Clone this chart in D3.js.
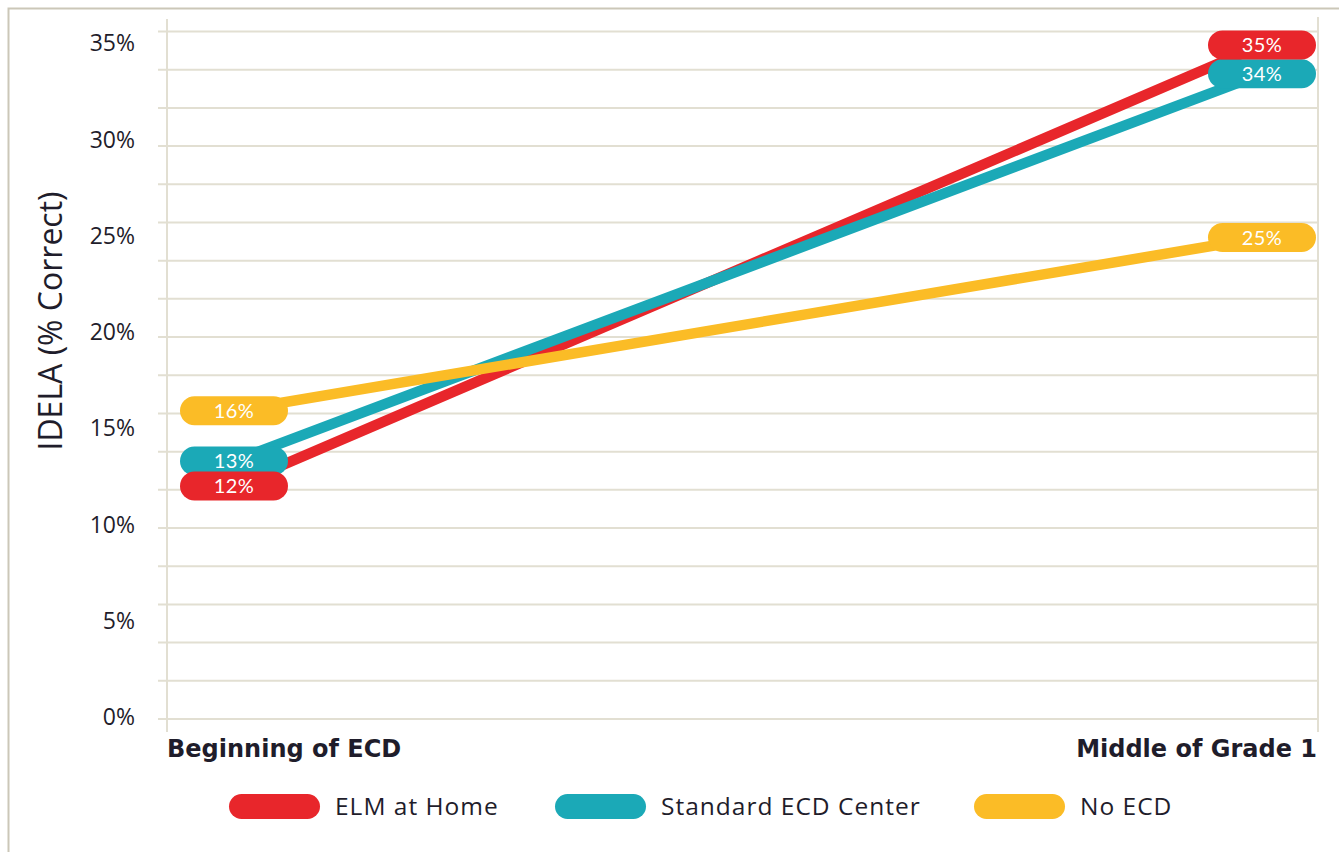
<!DOCTYPE html>
<html>
<head>
<meta charset="utf-8">
<script src="https://cdn.jsdelivr.net/npm/d3@7"></script>
<style>
  html, body { margin: 0; padding: 0; background: #ffffff; }
  svg { display: block; font-family: "Open Sans", Lato, sans-serif; }
</style>
</head>
<body>
<svg id="chart" width="1339" height="852"></svg>
<script>
// ---- data ----
const categories = ["Beginning of ECD", "Middle of Grade 1"];
const seriesNames = ["ELM at Home", "Standard ECD Center", "No ECD"];
const elmValues = [12.0, 34.9];
const standardValues = [13.3, 33.4];
const noEcdValues = [15.9, 24.9];
const elmLabels = ["12%", "35%"];
const standardLabels = ["13%", "34%"];
const noEcdLabels = ["16%", "25%"];
const yTickValues = [0, 5, 10, 15, 20, 25, 30, 35];
const yTickLabels = ["0%", "5%", "10%", "15%", "20%", "25%", "30%", "35%"];
const yTitle = "IDELA (% Correct)";
const gridSteps = 18;

const colors = ["#e8262b", "#1ba9b7", "#fbbc26"];
const series = [
  { name: seriesNames[0], values: elmValues, labels: elmLabels, color: colors[0] },
  { name: seriesNames[1], values: standardValues, labels: standardLabels, color: colors[1] },
  { name: seriesNames[2], values: noEcdValues, labels: noEcdLabels, color: colors[2] }
];

const svg = d3.select("#chart");
const textColor = "#1f1d2b";
const gridColor = "#e2dfd2";

// frame (top and left edge)
svg.append("path")
  .attr("d", "M8.5,852 L8.5,8.5 L1339,8.5")
  .attr("fill", "none").attr("stroke", "#cbc7b8").attr("stroke-width", 2);

// scales
const x = d3.scalePoint().domain(categories).range([234, 1262]);
const y = d3.scaleLinear().domain([0, 35]).range([717, 43]);
const grid = d3.scaleLinear().domain([0, gridSteps]).range([719, 31.5]);

const plotLeft = 167, plotRight = 1318;

// gridlines
svg.append("g").selectAll("line")
  .data(d3.range(gridSteps + 1))
  .join("line")
  .attr("x1", 158).attr("x2", plotRight)
  .attr("y1", d => grid(d)).attr("y2", d => grid(d))
  .attr("stroke", gridColor).attr("stroke-width", 2);

// vertical frame lines
svg.append("line").attr("x1", plotLeft).attr("x2", plotLeft)
  .attr("y1", 19).attr("y2", 732).attr("stroke", gridColor).attr("stroke-width", 2);
svg.append("line").attr("x1", plotRight).attr("x2", plotRight)
  .attr("y1", 17).attr("y2", 732).attr("stroke", gridColor).attr("stroke-width", 2);

// y tick labels
svg.append("g").selectAll("text")
  .data(yTickValues)
  .join("text")
  .attr("x", 135)
  .attr("y", d => y(d))
  .attr("dy", "0.36em")
  .attr("text-anchor", "end")
  .style("font-size", "23px")
  .attr("fill", textColor)
  .text((d, i) => yTickLabels[i]);

// y title
svg.append("text")
  .attr("transform", "translate(62,321) rotate(-90)")
  .attr("text-anchor", "middle")
  .style("font-size", "32px")
  .attr("fill", textColor)
  .text(yTitle);

// x labels
svg.append("text")
  .attr("x", 167).attr("y", 757)
  .style("font-family", "'DejaVu Sans', sans-serif")
  .style("font-size", "24px").style("font-weight", "bold")
  .attr("fill", textColor)
  .text(categories[0]);
svg.append("text")
  .attr("x", 1317).attr("y", 757)
  .attr("text-anchor", "end")
  .style("font-family", "'DejaVu Sans', sans-serif")
  .style("font-size", "24px").style("font-weight", "bold")
  .attr("fill", textColor)
  .text(categories[1]);

// lines (red, then teal, then yellow on top)
const line = d3.line().x((d, i) => x(categories[i])).y(d => y(d));
svg.append("g").selectAll("path")
  .data(series)
  .join("path")
  .attr("d", d => line(d.values))
  .attr("fill", "none")
  .attr("stroke", d => d.color)
  .attr("stroke-width", 10.5)
  .attr("stroke-linecap", "round");

// pills
const pillW = 108, pillH = 29;
const pills = svg.append("g");
series.slice().reverse().forEach(s => {
  s.values.forEach((v, i) => {
    const cx = x(categories[i]), cy = y(v);
    pills.append("rect")
      .attr("x", cx - pillW / 2).attr("y", cy - pillH / 2)
      .attr("width", pillW).attr("height", pillH)
      .attr("rx", pillH / 2).attr("ry", pillH / 2)
      .attr("fill", s.color);
    pills.append("text")
      .attr("x", cx).attr("y", cy).attr("dy", "0.36em")
      .attr("text-anchor", "middle")
      .style("font-family", "Lato, sans-serif")
      .style("font-size", "20px")
      .style("letter-spacing", "0.5px")
      .attr("fill", "#ffffff")
      .text(s.labels[i]);
  });
});

// legend
const legendX = [229, 555, 974];
const legend = svg.append("g");
series.forEach((s, i) => {
  legend.append("rect")
    .attr("x", legendX[i]).attr("y", 794)
    .attr("width", 91).attr("height", 25)
    .attr("rx", 12.5).attr("ry", 12.5)
    .attr("fill", s.color);
  legend.append("text")
    .attr("x", legendX[i] + 106).attr("y", 806.5).attr("dy", "0.36em")
    .style("font-size", "24.5px")
    .style("letter-spacing", "1px")
    .attr("fill", textColor)
    .text(s.name);
});
</script>
</body>
</html>
